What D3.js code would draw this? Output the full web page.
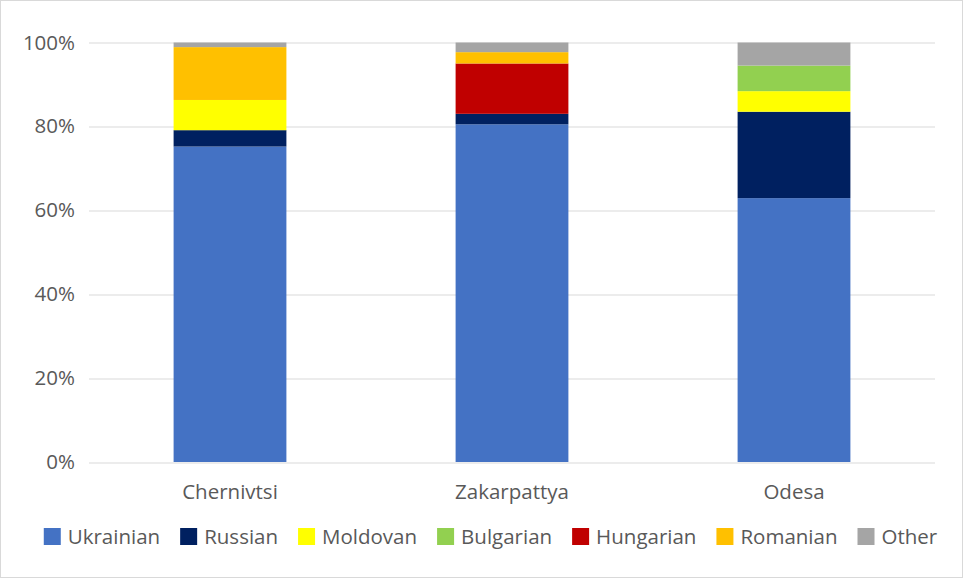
<!DOCTYPE html>
<html>
<head>
<meta charset="utf-8">
<script src="https://cdn.jsdelivr.net/npm/d3@7"></script>
<style>
  html, body { margin: 0; padding: 0; background: #fff; }
  svg { display: block; font-family: "Open Sans", "Segoe UI", sans-serif; }
</style>
</head>
<body>
<svg id="chart" width="963" height="578"></svg>
<script>
// Regional population shares by native language (%)
const regions = ["Chernivtsi", "Zakarpattya", "Odesa"];
const groups = ["Ukrainian", "Russian", "Moldovan", "Bulgarian", "Hungarian", "Romanian", "Other"];
const ukrainian = [75.2, 80.5, 62.9];
const russian   = [3.9, 2.5, 20.6];
const moldovan  = [7.2, 0, 4.9];
const bulgarian = [0, 0, 6.1];
const hungarian = [0, 12.0, 0];
const romanian  = [12.6, 2.7, 0];
const other     = [1.1, 2.3, 5.5];
const yTicks = [0, 20, 40, 60, 80, 100];
const colors = ["#4472C4", "#002060", "#FFFF00", "#92D050", "#C00000", "#FFC000", "#A5A5A5"];

const seriesValues = [ukrainian, russian, moldovan, bulgarian, hungarian, romanian, other];
const rows = regions.map((r, i) => {
  const row = { region: r };
  groups.forEach((g, k) => { row[g] = seriesValues[k][i]; });
  return row;
});

const FONT = "'Open Sans', 'Segoe UI', sans-serif";
const FS = 20.5;
const svg = d3.select("#chart");
const W = 963, H = 578;
const margin = { top: 42.5, right: 28, bottom: 116, left: 89 };
const innerW = W - margin.left - margin.right;
const innerH = H - margin.top - margin.bottom;

// outer frame
svg.append("rect")
  .attr("x", 0.5).attr("y", 0.5)
  .attr("width", W - 1).attr("height", H - 1)
  .attr("fill", "#fff").attr("stroke", "#d9d9d9");

const g = svg.append("g").attr("transform", `translate(${margin.left},${margin.top})`);

const x = d3.scaleBand().domain(regions).range([0, innerW]).paddingInner(0.6).paddingOuter(0.3);
const y = d3.scaleLinear().domain([0, 100]).range([innerH, 0]);

// gridlines
g.append("g")
  .selectAll("line")
  .data(yTicks)
  .join("line")
  .attr("x1", 0).attr("x2", innerW)
  .attr("y1", d => Math.round(y(d)) + 0.5).attr("y2", d => Math.round(y(d)) + 0.5)
  .attr("stroke", "#d9d9d9").attr("stroke-width", 1);

// y axis labels
const yAxis = d3.axisLeft(y).tickValues(yTicks).tickFormat(d => d + "%").tickSize(0).tickPadding(14);
g.append("g").call(yAxis)
  .call(s => s.select(".domain").remove())
  .call(s => s.selectAll("text")
    .attr("fill", "#595959").attr("font-size", FS)
    .attr("font-family", FONT));

// stacked bars
const stack = d3.stack().keys(groups);
const layers = stack(rows);
g.append("g")
  .selectAll("g")
  .data(layers)
  .join("g")
  .attr("fill", (d, i) => colors[i])
  .selectAll("rect")
  .data(d => d)
  .join("rect")
  .attr("x", d => x(d.data.region))
  .attr("width", x.bandwidth())
  .attr("y", d => y(d[1]))
  .attr("height", d => Math.max(0, y(d[0]) - y(d[1])));

// x axis labels
const xAxis = d3.axisBottom(x).tickSize(0).tickPadding(22);
g.append("g").attr("transform", `translate(0,${innerH})`).call(xAxis)
  .call(s => s.select(".domain").remove())
  .call(s => s.selectAll("text")
    .attr("fill", "#595959").attr("font-size", FS)
    .attr("font-family", FONT));

// legend
const legend = svg.append("g").attr("transform", "translate(0,537)");
const items = legend.selectAll("g").data(groups).join("g");
items.append("rect")
  .attr("width", 17).attr("height", 17).attr("y", -9)
  .attr("fill", (d, i) => colors[i]);
items.append("text")
  .attr("x", 24).attr("dy", "0.35em")
  .attr("fill", "#595959").attr("font-size", FS)
  .attr("font-family", FONT)
  .text(d => d);
let cursor = 0;
const offsets = [];
items.each(function () {
  offsets.push(cursor);
  const w = this.querySelector("text").getComputedTextLength();
  cursor += 24 + w + 20;
});
const totalW = cursor - 20;
const startX = 490.5 - totalW / 2;
items.attr("transform", (d, i) => `translate(${startX + offsets[i]},0)`);
</script>
</body>
</html>
